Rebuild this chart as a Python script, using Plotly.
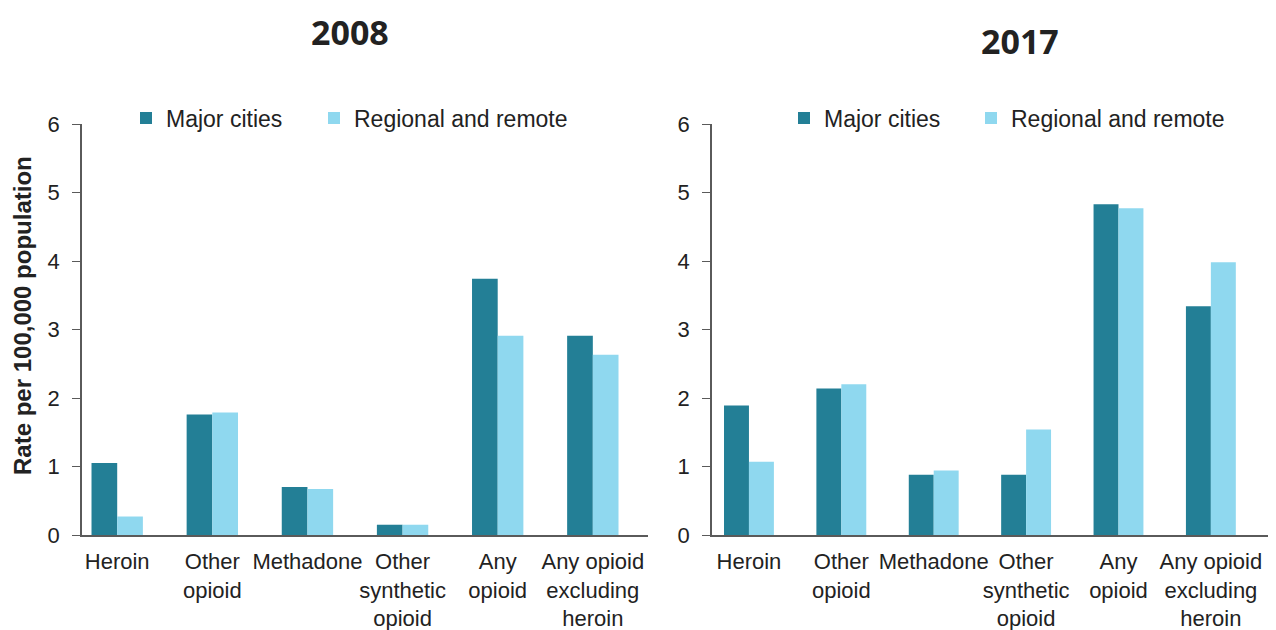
import plotly.graph_objects as go

categories = ["Heroin", "Other<br>opioid", "Methadone", "Other<br>synthetic<br>opioid",
              "Any<br>opioid", "Any opioid<br>excluding<br>heroin"]

major_2008 = [1.05, 1.76, 0.70, 0.15, 3.74, 2.91]
regional_2008 = [0.27, 1.79, 0.67, 0.15, 2.91, 2.63]
major_2017 = [1.89, 2.14, 0.88, 0.88, 4.83, 3.34]
regional_2017 = [1.07, 2.20, 0.94, 1.54, 4.77, 3.98]

dark = "#237f96"
light = "#8fd8ef"
font = "Liberation Sans, Arial, sans-serif"

fig = go.Figure()

# one legend box per entry so the spacing can match the original
panels = [
    ("x", "y", "legend2", "legend3", major_2008, regional_2008),
    ("x2", "y2", "legend4", "legend5", major_2017, regional_2017),
]
for xa, ya, leg_mc, leg_rr, mc, rr in panels:
    fig.add_trace(go.Bar(x=categories, y=mc, name="Major cities", marker_color=dark,
                         marker_line_width=0, xaxis=xa, yaxis=ya, legend=leg_mc))
    fig.add_trace(go.Bar(x=categories, y=rr, name="Regional and remote", marker_color=light,
                         marker_line_width=0, xaxis=xa, yaxis=ya, legend=leg_rr))

axis_common = dict(showline=True, linecolor="#5a5a5a", linewidth=1.5, showgrid=False,
                   zeroline=False, tickangle=0, automargin=False,
                   tickfont=dict(family=font, size=22, color="#222"))

# page body adds ~8px offset, so positions below are shifted back by 8px
W, H = 1276, 630


def legend_at(px):
    return dict(orientation="h", x=px / W, y=1 - 110 / H, xanchor="left", yanchor="middle",
                font=dict(family=font, size=23, color="#222"), bgcolor="rgba(0,0,0,0)")


fig.update_layout(
    width=W, height=H,
    showlegend=True,
    margin=dict(l=0, r=0, t=0, b=0, autoexpand=False),
    plot_bgcolor="white", paper_bgcolor="white",
    barmode="group", bargap=0.46, bargroupgap=0,
    font=dict(family=font, color="#222"),
    xaxis=dict(domain=[74 / W, 640 / W], range=[-0.37, 5.58], ticks="",
               ticklabelstandoff=6, **axis_common),
    xaxis2=dict(domain=[704 / W, 1262 / W], range=[-0.40, 5.64], ticks="",
                ticklabelstandoff=6, **axis_common),
    yaxis=dict(domain=[1 - 527 / H, 1 - 116 / H], range=[0, 6], dtick=1, ticks="outside",
               ticklen=8, tickcolor="#5a5a5a", anchor="x", ticklabelstandoff=8,
               **axis_common),
    yaxis2=dict(domain=[1 - 527 / H, 1 - 116 / H], range=[0, 6], dtick=1, ticks="outside",
                ticklen=8, tickcolor="#5a5a5a", anchor="x2", ticklabelstandoff=8,
                **axis_common),
    legend2=legend_at(118),
    legend3=legend_at(306),
    legend4=legend_at(776),
    legend5=legend_at(963),
    annotations=[
        dict(text="<b>2008</b>", x=342 / W, y=1 - 24 / H, xref="paper", yref="paper",
             xanchor="center", yanchor="middle", showarrow=False, borderpad=0,
             font=dict(family="Open Sans, sans-serif", size=34, color="#222")),
        dict(text="<b>2017</b>", x=1012 / W, y=1 - 33 / H, xref="paper", yref="paper",
             xanchor="center", yanchor="middle", showarrow=False, borderpad=0,
             font=dict(family="Open Sans, sans-serif", size=34, color="#222")),
        dict(text="<b>Rate per 100,000 population</b>", textangle=-90,
             x=14 / W, y=1 - 308 / H, xref="paper", yref="paper",
             xanchor="center", yanchor="middle", showarrow=False, borderpad=0,
             font=dict(family=font, size=24, color="#222")),
    ],
)

fig.write_html("out.html")
